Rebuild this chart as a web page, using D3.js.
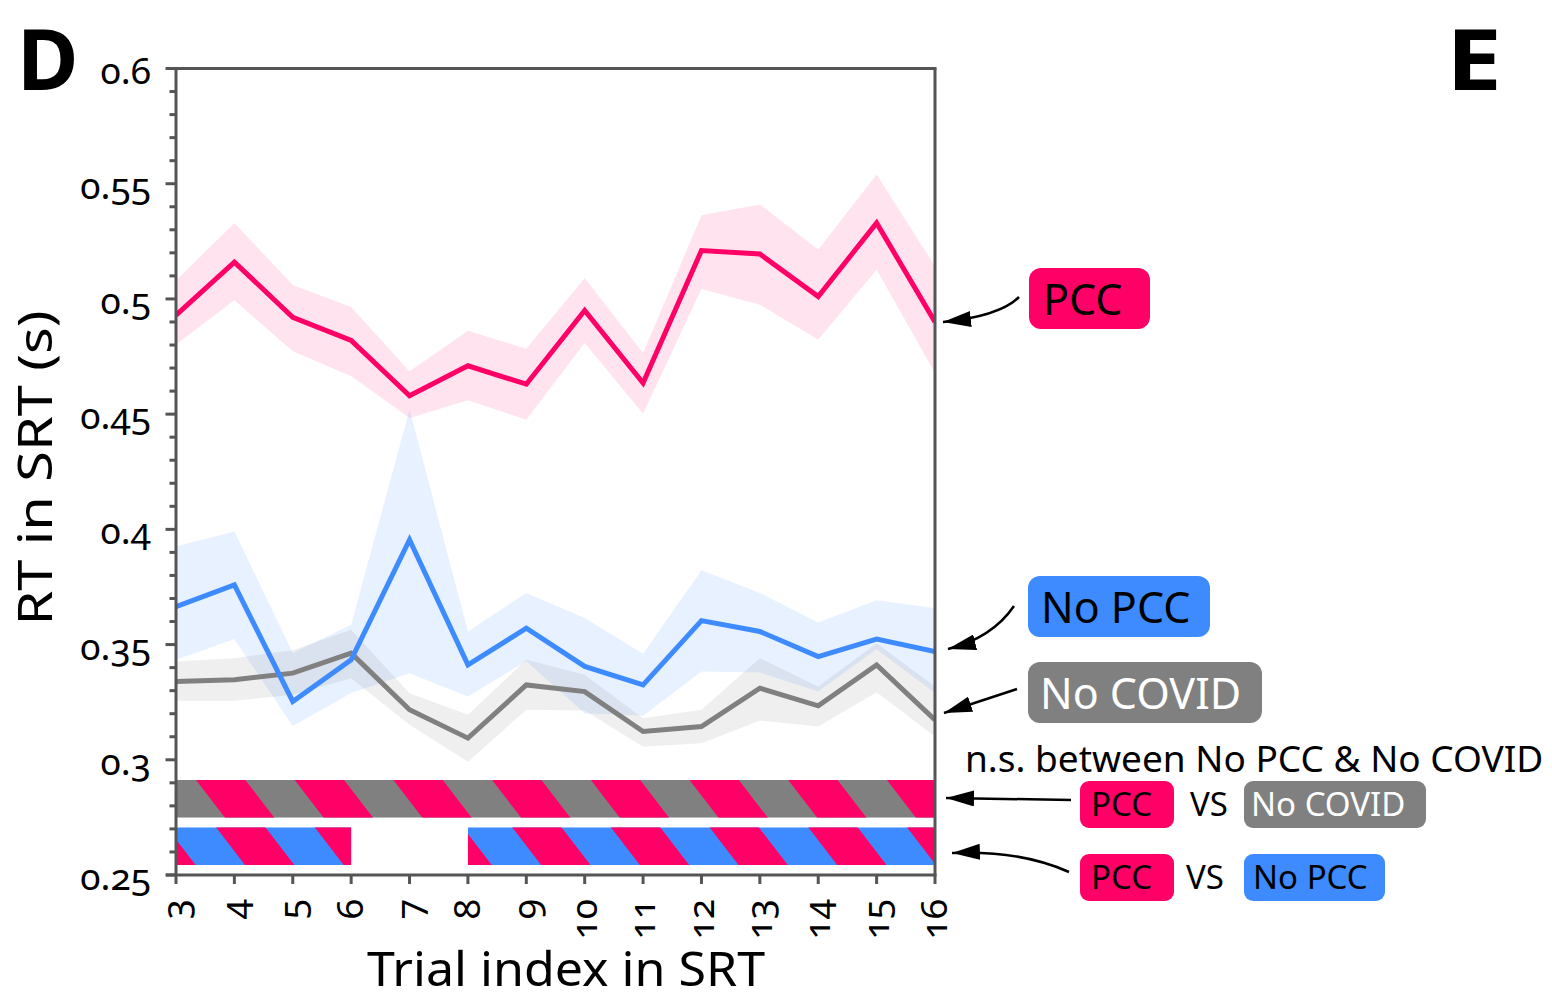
<!DOCTYPE html>
<html><head><meta charset="utf-8">
<script src="https://cdn.jsdelivr.net/npm/d3@7"></script>
<style>
html,body{margin:0;padding:0;background:#fff;}
svg{display:block;font-family:"Noto Sans",sans-serif;}
.num{font-variant-numeric:oldstyle-nums;font-feature-settings:"onum" 1;}
</style></head><body>
<svg id="chart" width="1552" height="1000"></svg>
<script>
// ---------------- data ----------------
const trials = [3, 4, 5, 6, 7, 8, 9, 10, 11, 12, 13, 14, 15, 16];

const pccMean  = [0.493, 0.516, 0.492, 0.482, 0.458, 0.471, 0.463, 0.495, 0.4635, 0.521, 0.5195, 0.501, 0.533, 0.490];
const pccUpper = [0.508, 0.533, 0.506, 0.4965, 0.4686, 0.4862, 0.4784, 0.5091, 0.4765, 0.5363, 0.541, 0.5214, 0.554, 0.5142];
const pccLower = [0.4802, 0.4994, 0.4773, 0.4664, 0.4483, 0.456, 0.4476, 0.4809, 0.4502, 0.5043, 0.4975, 0.4823, 0.5127, 0.4679];

const noPccMean  = [0.3665, 0.3759, 0.3253, 0.3434, 0.3955, 0.3412, 0.3571, 0.3405, 0.3325, 0.3604, 0.3557, 0.3448, 0.3524, 0.347];
const noPccUpper = [0.3926, 0.3991, 0.3463, 0.3586, 0.4519, 0.3557, 0.3724, 0.3615, 0.346, 0.3822, 0.3724, 0.3596, 0.3692, 0.3658];
const noPccLower = [0.3434, 0.3524, 0.3147, 0.329, 0.3376, 0.3275, 0.3428, 0.3202, 0.3191, 0.3383, 0.3379, 0.3296, 0.348, 0.329];

const noCovidMean  = [0.334, 0.3347, 0.3376, 0.3463, 0.3217, 0.3094, 0.3325, 0.3296, 0.3123, 0.3144, 0.3311, 0.3234, 0.3412, 0.3173];
const noCovidUpper = [0.3427, 0.3441, 0.3475, 0.3564, 0.3289, 0.3195, 0.3434, 0.3369, 0.318, 0.3217, 0.3441, 0.3318, 0.3506, 0.3318];
const noCovidLower = [0.3256, 0.3256, 0.3282, 0.3354, 0.3152, 0.2992, 0.3217, 0.3214, 0.3057, 0.3072, 0.317, 0.3144, 0.3293, 0.3101];

const yTickValues = [0.25, 0.3, 0.35, 0.4, 0.45, 0.5, 0.55, 0.6];
const yTickLabels = ["0.25", "0.3", "0.35", "0.4", "0.45", "0.5", "0.55", "0.6"];

// significance: ranges of trials where the comparison is significant
const sigComparisons = ["PCC vs No COVID", "PCC vs No PCC"];
const sigRanges = [[[3, 16]], [[3, 6], [8, 16]]];

// ---------------- layout ----------------
const svg = d3.select("#chart");
const x = d3.scaleLinear().domain([3, 16]).range([176, 935]);
const y = d3.scaleLinear().domain([0.25, 0.6]).range([875, 68.5]);
const AX = "#555555";
const colPCC = "#FF0066", colNoPCC = "#3D8BFF", colNoCOVID = "#808080";

const series = [
  {name: "PCC", color: colPCC, mean: pccMean, lo: pccLower, hi: pccUpper, op: 0.105},
  {name: "No PCC", color: colNoPCC, mean: noPccMean, lo: noPccLower, hi: noPccUpper, op: 0.12},
  {name: "No COVID", color: colNoCOVID, mean: noCovidMean, lo: noCovidLower, hi: noCovidUpper, op: 0.125}
];

const defs = svg.append("defs");
defs.append("clipPath").attr("id", "plotclip").append("rect")
  .attr("x", x(3)).attr("y", y(0.6)).attr("width", x(16) - x(3)).attr("height", y(0.25) - y(0.6));
defs.append("marker").attr("id", "arrow").attr("viewBox", "0 0 28 16")
  .attr("refX", 28).attr("refY", 8).attr("markerWidth", 28).attr("markerHeight", 16)
  .attr("markerUnits", "userSpaceOnUse").attr("orient", "auto")
  .append("path").attr("d", "M0,0 L28,8 L0,16 Z").attr("fill", "#000");

const plot = svg.append("g").attr("clip-path", "url(#plotclip)");

// bands
const area = d3.area().x((d, i) => x(trials[i]));
series.forEach(s => {
  plot.append("path")
    .attr("d", area.y0((d, i) => y(s.lo[i])).y1((d, i) => y(s.hi[i]))(s.mean))
    .attr("fill", s.color).attr("fill-opacity", s.op);
});
// lines
const line = d3.line().x((d, i) => x(trials[i])).y(d => y(d));
[series[2], series[1], series[0]].forEach(s => {
  plot.append("path").attr("d", line(s.mean))
    .attr("fill", "none").attr("stroke", s.color).attr("stroke-width", 5)
    .attr("stroke-linejoin", "miter");
});

// significance striped bars
const barGeom = [{top: 780, h: 37.7, bg: colNoCOVID, phase: 20}, {top: 827.3, h: 37.7, bg: colNoPCC, phase: 40}];
const period = 98.7, stripeW = period / 2, slant = 0.77;
sigRanges.forEach((ranges, bi) => {
  const g = barGeom[bi];
  ranges.forEach((r, ri) => {
    const x0 = x(r[0]), x1 = x(r[1]);
    const cid = "sig" + bi + "_" + ri;
    defs.append("clipPath").attr("id", cid).append("rect")
      .attr("x", x0).attr("y", g.top).attr("width", x1 - x0).attr("height", g.h);
    const gg = svg.append("g").attr("clip-path", "url(#" + cid + ")");
    gg.append("rect").attr("x", x0).attr("y", g.top).attr("width", x1 - x0).attr("height", g.h).attr("fill", g.bg);
    const start = x(3) + g.phase;
    for (let a = start - period * 3; a < x1 + period; a += period) {
      const sh = slant * g.h;
      gg.append("path")
        .attr("d", `M${a},${g.top} L${a + stripeW},${g.top} L${a + stripeW + sh},${g.top + g.h} L${a + sh},${g.top + g.h} Z`)
        .attr("fill", colPCC);
    }
  });
});

// frame & axes
const frame = svg.append("g").attr("stroke", AX).attr("stroke-width", 3).attr("fill", "none");
frame.append("line").attr("x1", 166).attr("x2", x(16) + 1.5).attr("y1", y(0.6)).attr("y2", y(0.6));
frame.append("line").attr("x1", 166).attr("x2", x(16) + 1.5).attr("y1", y(0.25)).attr("y2", y(0.25));
frame.append("line").attr("x1", x(3)).attr("x2", x(3)).attr("y1", y(0.6)).attr("y2", y(0.25));
frame.append("line").attr("x1", x(16)).attr("x2", x(16)).attr("y1", y(0.6)).attr("y2", y(0.25));

// y ticks (minor every 0.01)
const minor = [];
for (let k = 26; k < 60; k++) if (k % 5 !== 0) minor.push(k / 100);
frame.selectAll(".ymin").data(minor).enter().append("line")
  .attr("x1", x(3) - 6.5).attr("x2", x(3)).attr("y1", d => y(d)).attr("y2", d => y(d));
frame.selectAll(".ymaj").data(yTickValues).enter().append("line")
  .attr("x1", x(3) - 10.5).attr("x2", x(3)).attr("y1", d => y(d)).attr("y2", d => y(d));
svg.selectAll(".ylab").data(yTickValues).enter().append("text")
  .attr("class", "num").attr("x", 151).attr("y", d => y(d) + 15)
  .attr("text-anchor", "end").attr("font-size", 37).attr("fill", "#000")
  .text((d, i) => yTickLabels[i]);

// x ticks
frame.selectAll(".xt").data(trials).enter().append("line")
  .attr("x1", d => x(d)).attr("x2", d => x(d)).attr("y1", y(0.25)).attr("y2", y(0.25) + 9);
svg.selectAll(".xlab").data(trials).enter().append("text")
  .attr("class", "num")
  .attr("transform", d => `translate(${x(d)},${899}) rotate(-90)`)
  .attr("text-anchor", "end").attr("dy", "0.33em").attr("font-size", 37).attr("fill", "#000")
  .text(d => String(d));

// axis titles
svg.append("text").attr("transform", "translate(52,468) rotate(-90)")
  .attr("text-anchor", "middle").attr("font-size", 48).attr("textLength", 315)
  .attr("lengthAdjust", "spacingAndGlyphs").text("RT in SRT (s)");
svg.append("text").attr("x", 566).attr("y", 986)
  .attr("text-anchor", "middle").attr("font-size", 47).attr("textLength", 398)
  .attr("lengthAdjust", "spacingAndGlyphs").text("Trial index in SRT");

// panel letters
svg.append("text").attr("x", 17).attr("y", 90).attr("font-size", 84).attr("font-weight", 700).text("D");
svg.append("text").attr("x", 1446).attr("y", 90).attr("font-size", 84).attr("font-weight", 700)
  .attr("textLength", 56).attr("lengthAdjust", "spacingAndGlyphs").text("E");

// legend boxes
function box(xp, yp, w, h, rx, fill, label, tcol, fs, tx, ty) {
  svg.append("rect").attr("x", xp).attr("y", yp).attr("width", w).attr("height", h).attr("rx", rx).attr("fill", fill);
  svg.append("text").attr("x", tx).attr("y", ty).attr("font-size", fs).attr("fill", tcol).text(label);
}
box(1029, 268, 121, 61, 12, colPCC, series[0].name, "#000", 43, 1043, 315);
box(1028, 576, 182, 61, 12, colNoPCC, series[1].name, "#000", 43, 1041, 623);
box(1028, 662, 234, 61, 12, colNoCOVID, series[2].name, "#fff", 43, 1040, 709);

svg.append("text").attr("x", 965).attr("y", 772).attr("font-size", 37).attr("fill", "#000")
  .text("n.s. between No PCC & No COVID");

box(1080, 781, 94, 47, 9, colPCC, "PCC", "#000", 33, 1091, 816);
svg.append("text").attr("x", 1190).attr("y", 816).attr("font-size", 33).text("VS");
box(1244, 781, 182, 47, 9, colNoCOVID, "No COVID", "#fff", 33, 1251, 816);

box(1080, 854, 94, 47, 9, colPCC, "PCC", "#000", 33, 1091, 889);
svg.append("text").attr("x", 1186).attr("y", 889).attr("font-size", 33).text("VS");
box(1244, 854, 141, 47, 9, colNoPCC, "No PCC", "#000", 33, 1253, 889);

// arrows
const arrows = [
  "M1019,297 Q1000,316 943,322",
  "M1014,606 Q992,638 948,649",
  "M1017,689 L944,713",
  "M1071,800 L946,798",
  "M1069,872 Q1020,850 952,853"
];
svg.selectAll(".arr").data(arrows).enter().append("path")
  .attr("d", d => d).attr("fill", "none").attr("stroke", "#000").attr("stroke-width", 2.5)
  .attr("marker-end", "url(#arrow)");
</script>
</body></html>
